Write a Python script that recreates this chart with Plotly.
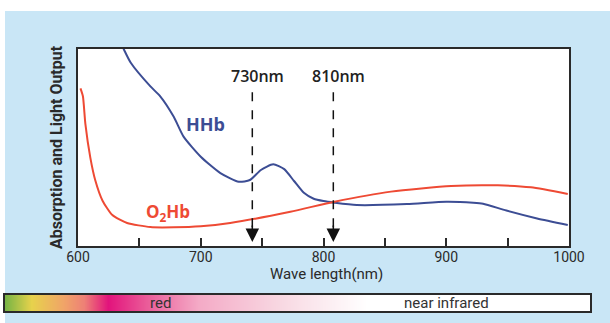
import plotly.graph_objects as go

# ---- data ----
hhb_nm = [630, 637.6, 643, 659, 667, 678, 686, 700, 716, 731, 740, 749, 759, 768, 776, 784, 792, 800, 809, 827, 868, 900, 922, 930, 949, 974, 999]
hhb_abs = [1.10, 0.995, 0.93, 0.81, 0.76, 0.656, 0.555, 0.453, 0.37, 0.326, 0.335, 0.386, 0.415, 0.39, 0.33, 0.27, 0.24, 0.228, 0.22, 0.208, 0.213, 0.225, 0.22, 0.215, 0.18, 0.14, 0.107]

o2hb_nm = [602, 604, 606, 610, 614, 620, 628, 640, 659, 678, 700, 724, 773, 809, 855, 904, 942, 969, 999]
o2hb_abs = [0.80, 0.76, 0.62, 0.45, 0.335, 0.23, 0.157, 0.117, 0.096, 0.095, 0.10, 0.117, 0.174, 0.225, 0.276, 0.305, 0.308, 0.298, 0.264]

marker_nm = [742, 808]
marker_labels = ["730nm", "810nm"]

tick_vals = [600, 650, 700, 750, 800, 850, 900, 950, 1000]
tick_text = ["600", "", "700", "", "800", "", "900", "", "1000"]

band_labels = ["red", "near infrared"]
band_label_pos = [155, 442]  # position along the spectrum bar (bar units)

W, H = 610, 323
BG = "#c9e6f6"
BLUE = "#3c4d94"
RED = "#ee4a34"
DARK = "#2a2a2a"
NARROW = "Roboto, sans-serif"

fig = go.Figure()

fig.add_trace(go.Scatter(x=hhb_nm, y=hhb_abs, mode="lines",
                         line=dict(color=BLUE, width=2, shape="spline", smoothing=0.6),
                         hoverinfo="skip", showlegend=False))
fig.add_trace(go.Scatter(x=o2hb_nm, y=o2hb_abs, mode="lines",
                         line=dict(color=RED, width=2, shape="spline", smoothing=0.6),
                         hoverinfo="skip", showlegend=False))

# spectrum bar (gradient) on its own axes
bar_x = list(range(0, 586))
fig.add_trace(go.Heatmap(
    z=[bar_x], x=bar_x, y=[0], xaxis="x2", yaxis="y2",
    colorscale=[[0.0, "#78b444"], [0.045, "#e7d24c"], [0.10, "#f0a468"],
                [0.135, "#ee8076"], [0.176, "#e2137c"], [0.24, "#ea5a98"],
                [0.33, "#f4aac6"], [0.47, "#f8d8e2"], [0.62, "#ffffff"], [1.0, "#ffffff"]],
    showscale=False, hoverinfo="skip"))

x0d, x1d = 78 / W, 569 / W
y0d, y1d = (H - 246) / H, (H - 49) / H

fig.update_layout(
    width=W, height=H,
    margin=dict(l=0, r=0, t=0, b=0),
    paper_bgcolor=BG, plot_bgcolor="white",
    xaxis=dict(domain=[x0d, x1d], range=[600, 1000], tickvals=tick_vals, ticktext=tick_text,
               ticks="inside", ticklen=8, tickwidth=1.5, tickcolor=DARK,
               showline=True, linecolor=DARK, linewidth=1.5, mirror=True,
               showgrid=False, zeroline=False, automargin=False, ticklabelstandoff=-3,
               tickfont=dict(family=NARROW, size=14, color=DARK)),
    yaxis=dict(domain=[y0d, y1d], range=[0, 1], showticklabels=False, ticks="",
               showline=True, linecolor=DARK, linewidth=1.5, mirror=True,
               showgrid=False, zeroline=False, automargin=False),
    xaxis2=dict(domain=[5 / W, 590 / W], range=[-0.5, 585.5], anchor="y2",
                showticklabels=False, ticks="", showgrid=False, zeroline=False,
                showline=True, linecolor=DARK, linewidth=1.5, mirror=True, automargin=False),
    yaxis2=dict(domain=[(H - 311) / H, (H - 295) / H], range=[-0.5, 0.5], anchor="x2",
                showticklabels=False, ticks="", showgrid=False, zeroline=False,
                showline=True, linecolor=DARK, linewidth=1.5, mirror=True, automargin=False),
)

# white strips at top and left of the picture
fig.add_shape(type="rect", xref="paper", yref="paper", x0=0, x1=1, y0=(H - 11) / H, y1=1,
              fillcolor="white", line=dict(width=0), layer="below")
fig.add_shape(type="rect", xref="paper", yref="paper", x0=0, x1=5 / W, y0=0, y1=1,
              fillcolor="white", line=dict(width=0), layer="below")

# dashed marker lines with arrowheads and labels
for nm, lab in zip(marker_nm, marker_labels):
    fig.add_shape(type="line", xref="x", yref="y", x0=nm, x1=nm, y0=0.78, y1=0.09,
                  line=dict(color="#111", width=1.5, dash="dash"))
    fig.add_annotation(x=nm, y=0.02, xref="x", yref="y", ax=0, ay=-18, axref="pixel", ayref="pixel",
                       showarrow=True, arrowhead=2, arrowsize=1.8, arrowwidth=1.5, arrowcolor="#111",
                       text="")
    fig.add_annotation(x=nm, y=0.865, xref="x", yref="y", xshift=5, showarrow=False, text=lab,
                       font=dict(family="Open Sans, sans-serif", size=16, color="#222", weight=600))

fig.add_annotation(x=704, y=0.62, xref="x", yref="y", showarrow=False, text="HHb",
                   font=dict(family="Open Sans, sans-serif", size=18, color=BLUE, weight="bold"))
fig.add_annotation(x=673, y=0.17, xref="x", yref="y", showarrow=False, text="O<sub>2</sub>Hb",
                   font=dict(family="Open Sans, sans-serif", size=17, color=RED, weight="bold"))

# axis titles
fig.add_annotation(x=(569 + 78) / 2 / W + 0.005, y=(H - 274) / H, xref="paper", yref="paper",
                   xanchor="center", yanchor="middle",
                   showarrow=False, text="Wave length(nm)",
                   font=dict(family=NARROW, size=15, color=DARK))
fig.add_annotation(x=56 / W, y=(H - 147) / H, xref="paper", yref="paper", textangle=-90,
                   xanchor="center", yanchor="middle",
                   showarrow=False, text="Absorption and Light Output",
                   font=dict(family=NARROW, size=16, color=DARK, weight="bold"))

for lab, pos in zip(band_labels, band_label_pos):
    fig.add_annotation(x=pos, y=0, xref="x2", yref="y2", showarrow=False, text=lab,
                       font=dict(family=NARROW, size=15, color="#333"))

fig.write_html("out.html", post_script="document.body.style.margin='0';",
               config={"displayModeBar": False})
